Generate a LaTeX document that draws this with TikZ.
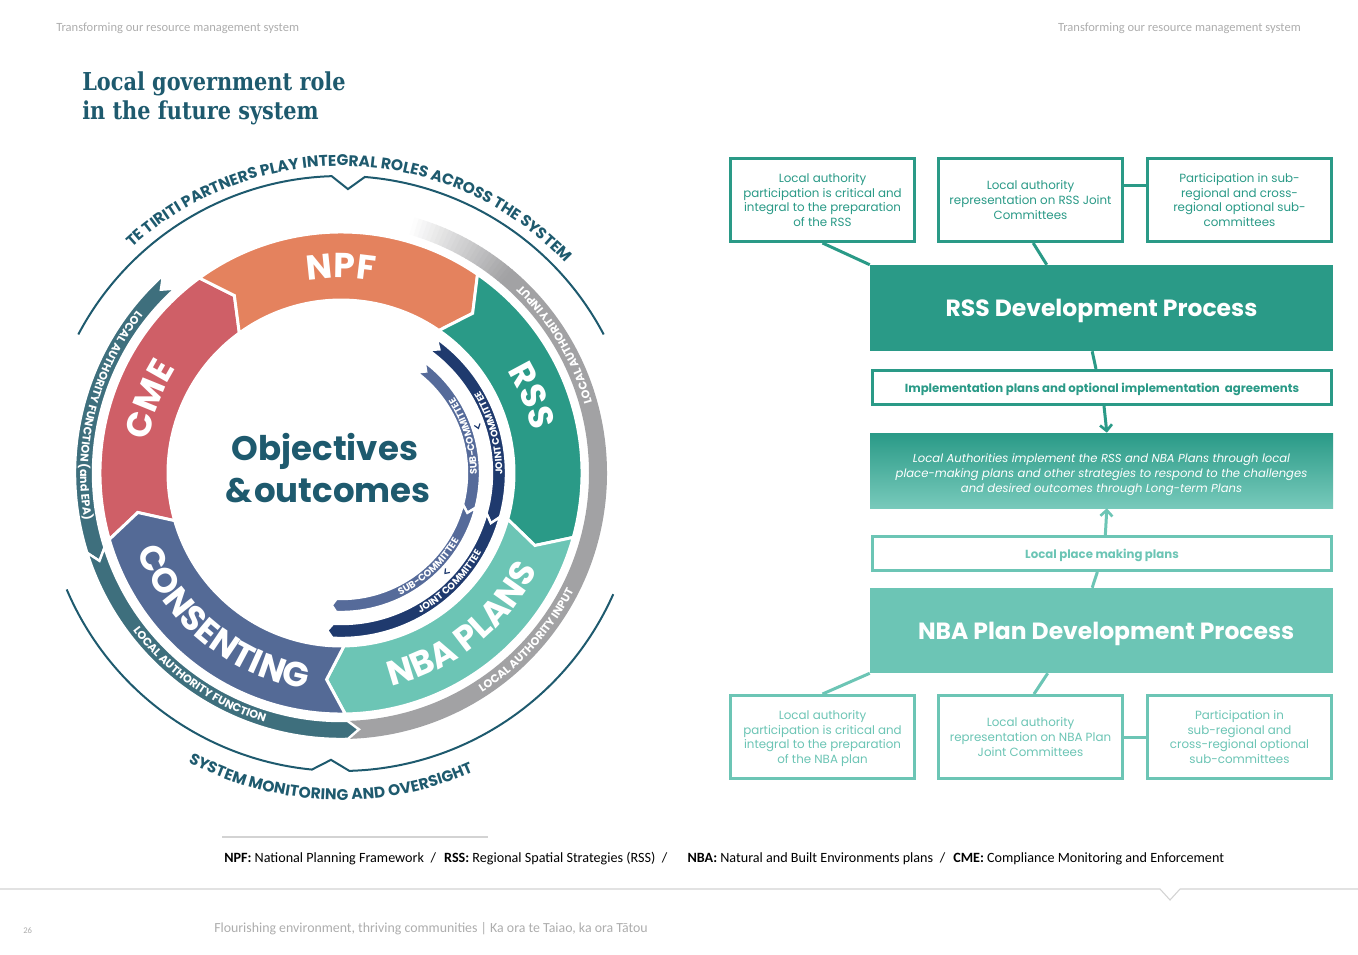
\documentclass[tikz,border=0pt]{standalone}
\usepackage{fontspec}
\setmainfont{Poppins}
\newfontfamily\pop{Poppins}
\newfontfamily\carl{Carlito}
\newfontfamily\titlef[FakeStretch=0.845]{DejaVu Serif}
\usetikzlibrary{decorations.text,arrows.meta,calc}
\definecolor{dteal}{HTML}{1E5A6E}
\definecolor{cmec}{HTML}{CF5F67}
\definecolor{npfc}{HTML}{E4825E}
\definecolor{rssc}{HTML}{2A9A87}
\definecolor{nbac}{HTML}{6CC5B5}
\definecolor{conc}{HTML}{546A96}
\definecolor{tband}{HTML}{3E6F7D}
\definecolor{gband}{HTML}{A2A2A4}
\definecolor{navyc}{HTML}{1F3A6E}
\definecolor{slatec}{HTML}{566B9A}
\definecolor{hdrgray}{HTML}{ADADAD}
\definecolor{linegray}{HTML}{D3D3D3}
% ring segment: colour, start angle, end angle (clockwise)
\newcommand\ringseg[3]{\filldraw[fill=#1,draw=white,line width=2.2pt] (#2:241) arc[start angle=#2,end angle=#3,radius=241] -- ({#3-5}:207) -- (#3:173) arc[start angle=#3,end angle=#2,radius=173] -- ({#2-5}:207) -- cycle;}
% clockwise band: colour, rin, rout, start, end, dstart, dend
\newcommand\bandcw[7]{\filldraw[fill=#1,draw=white,line width=1.8pt] (#4:#3) arc[start angle=#4,end angle=#5,radius=#3] -- ({#5-(#7)}:{(#2+#3)/2}) -- (#5:#2) arc[start angle=#5,end angle=#4,radius=#2] -- ({#4-(#6)}:{(#2+#3)/2}) -- cycle;}
% counter-clockwise band
\newcommand\bandccw[7]{\filldraw[fill=#1,draw=white,line width=1.8pt] (#4:#3) arc[start angle=#4,end angle=#5,radius=#3] -- ({#5+(#7)}:{(#2+#3)/2}) -- (#5:#2) arc[start angle=#5,end angle=#4,radius=#2] -- ({#4+(#6)}:{(#2+#3)/2}) -- cycle;}
% text on arc: radius, start, end, font, colour, text
\newcommand\arctext[6]{\path[decorate,decoration={text along path,text align=center,text color=#5,text={|#4|#6}}] (#2:#1) arc[start angle=#2,end angle=#3,radius=#1];}
\newcommand\ringf{\pop\bfseries\fontsize{26}{26}\selectfont}
\newcommand\rimf{\pop\bfseries\fontsize{11.6}{13}\selectfont}
\newcommand\bandf{\pop\bfseries\fontsize{8.4}{9}\selectfont}
\newcommand\innf{\pop\bfseries\fontsize{7.2}{8}\selectfont}
\tikzset{
  hdr/.style={inner sep=0pt,text=hdrgray,font=\carl\fontsize{9.4}{11}\selectfont},
  obox/.style={draw=rssc,line width=2.25pt,fill=white,inner sep=0pt,minimum width=138pt,minimum height=62.25pt,align=center,text=rssc,text depth=0pt,font=\pop\fontsize{8.9}{10.9}\selectfont},
  lbox/.style={obox,draw=nbac,text=nbac},
  wbox/.style={obox,minimum width=344.25pt,minimum height=25.5pt,font=\pop\bfseries\fontsize{8.8}{10}\selectfont},
  lwbox/.style={wbox,draw=nbac,text=nbac},
  bigbox/.style={draw=none,inner sep=0pt,minimum width=347.25pt,minimum height=64.5pt,text=white,text depth=0pt,font=\pop\bfseries\fontsize{17.6}{20}\selectfont},
  conn/.style={draw=rssc,line width=2.25pt},
  lconn/.style={draw=nbac,line width=2.25pt},
  tip/.style={-{Straight Barb[length=4.5pt,width=9pt,line width=2pt]}}
}
\begin{document}
\begin{tikzpicture}[x=0.75pt,y=0.75pt]
\useasboundingbox (0,0) rectangle (1358,-955);
% header
\node[hdr,anchor=base west] (hdrL) at (56,-32) {Transforming our resource management system};
\node[hdr,anchor=base east] (hdrR) at (1301,-32) {Transforming our resource management system};
% title
\node[anchor=base west,inner sep=0pt,text=dteal,font=\titlef\bfseries\fontsize{18.5}{21}\selectfont] (title1) at (82,-91) {Local government role};
\node[anchor=base west,inner sep=0pt,text=dteal,font=\titlef\bfseries\fontsize{18.5}{21}\selectfont] (title2) at (82,-120) {in the future system};

\begin{scope}[shift={(341,-473)}]
% main ring
\ringseg{cmec}{196}{126}
\ringseg{npfc}{126}{55.5}
\ringseg{rssc}{55.5}{-15.5}
\ringseg{nbac}{-15.5}{-89}
\ringseg{conc}{-89}{-164}
% grey band with fading start
\foreach \i in {0,...,23}{
  \pgfmathsetmacro\aa{74-\i}
  \pgfmathsetmacro\bb{74-\i-1.15}
  \pgfmathsetmacro\pp{(\i+0.5)/24*100}
  \fill[gband!\pp!white] (\aa:266) arc[start angle=\aa,end angle=\bb,radius=266] -- (\bb:248) arc[start angle=\bb,end angle=\aa,radius=248] -- cycle;
}
\fill[gband] (50:266) arc[start angle=50,end angle=-88.5,radius=266] -- (-86:257) -- (-88.5:248) arc[start angle=-88.5,end angle=50,radius=248] -- cycle;
% teal band
\bandccw{tband}{248}{266}{132}{197.5}{2.5}{2.5}
\bandccw{tband}{248}{266}{197.5}{271.5}{2.5}{2.5}
% committee bands
\bandcw{slatec}{126}{139}{53}{-14.5}{3}{3}
\bandcw{slatec}{126}{139}{-14.5}{-92}{3}{2}
\bandcw{navyc}{151}{165}{54.5}{-15.5}{3}{3}
\bandcw{navyc}{151}{165}{-15.5}{-93}{3}{2}
\draw[navyc,line width=0.9pt] (19.6:141.5) -- (18:144.5) -- (19.6:147.5);
\draw[navyc,line width=0.9pt] (-42.4:141.5) -- (-44:144.5) -- (-42.4:147.5);
% thin outer arcs
\draw[dteal,line width=1.5pt] (152.2:297) arc[start angle=152.2,end angle=91.8,radius=297] -- (88.6:284) -- (85.4:297) arc[start angle=85.4,end angle=27.8,radius=297];
\draw[dteal,line width=1.5pt] (203:298) arc[start angle=203,end angle=264.4,radius=298] -- (268:287) -- (271.6:298) arc[start angle=271.6,end angle=336,radius=298];
% rim texts
\arctext{307}{142}{34}{\rimf}{dteal}{TE TIRITI PARTNERS PLAY INTEGRAL ROLES ACROSS THE SYSTEM}
\arctext{327}{226}{310}{\rimf}{dteal}{SYSTEM MONITORING AND OVERSIGHT}
% ring labels
\arctext{195}{130}{50}{\ringf}{white}{NPF}
\arctext{195}{60}{-16}{\ringf}{white}{RSS}
\arctext{195}{195}{123}{\ringf}{white}{CME}
\arctext{219}{-90}{-13}{\ringf}{white}{NBA PLANS}
\arctext{219}{195}{267}{\ringf}{white}{CONSENTING}
% band texts
\arctext{260.8}{132}{200}{\bandf}{white}{LOCAL AUTHORITY FUNCTION (and EPA)}
\arctext{260.8}{200}{270}{\bandf}{white}{LOCAL AUTHORITY FUNCTION}
\arctext{260.8}{0}{62}{\bandf}{white}{LOCAL AUTHORITY INPUT}
\arctext{260.8}{-75}{-9}{\bandf}{white}{LOCAL AUTHORITY INPUT}
\arctext{135.8}{-12}{45}{\innf}{white}{SUB-COMMITTEE}
\arctext{161.3}{-13}{43}{\innf}{white}{JOINT COMMITTEE}
\arctext{135.8}{-85}{-9}{\innf}{white}{SUB-COMMITTEE}
\arctext{161.3}{-85}{-5}{\innf}{white}{JOINT COMMITTEE}
% centre
\node[anchor=base,inner sep=0pt,text=dteal,font=\pop\bfseries\fontsize{25.5}{30}\selectfont] (obj1) at (-16,13) {Objectives};
\node[anchor=base,inner sep=0pt,text=dteal,font=\pop\bfseries\fontsize{25.5}{30}\selectfont] (obj2) at (-13,-29) {\&\kern1.5pt outcomes};
\end{scope}

% flowchart
\node[obox] (T1) at (822.5,-200) {Local authority\\participation is critical and\\integral to the preparation\\of the RSS};
\node[obox] (T2) at (1030.5,-200) {Local authority\\representation on RSS Joint\\Committees};
\node[obox] (T3) at (1239.5,-200) {Participation in sub-\\regional and cross-\\regional optional sub-\\committees};
\node[bigbox,fill=rssc] (RSS) at (1101.5,-308) {RSS Development Process};
\node[wbox] (Impl) at (1102,-387.5) {Implementation plans and optional implementation\ \ agreements};
\node[draw=none,inner sep=0pt,minimum width=347.25pt,minimum height=56.25pt,top color=rssc,bottom color=nbac!92!white] (Grad) at (1101.5,-470.5) {};
\node[inner sep=0pt,align=center,text=white,font=\pop\itshape\fontsize{8.7}{11.25}\selectfont] (GradT) at (1101.5,-474.5) {Local Authorities implement the RSS and NBA Plans through local\\place-making plans and other strategies to respond to the challenges\\and desired outcomes through Long-term Plans};
\node[lwbox] (Local) at (1102,-553.5) {Local place making plans};
\node[bigbox,fill=nbac,minimum height=63.75pt] (NBA) at (1101.5,-630.5) {\hspace{7pt}NBA Plan Development Process};
\node[lbox] (B1) at (822.5,-737) {Local authority\\participation is critical and\\integral to the preparation\\of the NBA plan};
\node[lbox] (B2) at (1030.5,-737) {Local authority\\representation on NBA Plan\\Joint Committees};
\node[lbox] (B3) at (1239.5,-737) {Participation in\\sub-regional and\\cross-regional optional\\sub-committees};
\draw[conn] (T1.south) -- (RSS.north west);
\draw[conn] ([xshift=2pt]T2.south) -- ($(RSS.north west)+(177,0)$);
\draw[conn] ([yshift=10.5pt]T2.east) -- ([yshift=10.5pt]T3.west);
\draw[conn] ([xshift=-7pt]RSS.south) -- ([xshift=-4.5pt]Impl.north);
\draw[conn,tip] ([xshift=1.5pt]Impl.south) -- ([xshift=4pt]Grad.north);
\draw[lconn,tip] ([xshift=2.5pt]Local.north) -- ([xshift=4pt]Grad.south);
\draw[lconn] ([xshift=-3.5pt]Local.south) -- ([xshift=-7pt]NBA.north);
\draw[lconn] (NBA.south west) -- (B1.north);
\draw[lconn] ($(NBA.south west)+(178,0)$) -- ([xshift=2.6pt]B2.north);
\draw[lconn] (B2.east) -- (B3.west);

% legend and footer
\draw[linegray,line width=0.8pt] (222,-837) -- (488,-837);
\node[anchor=base west,inner sep=0pt,font=\carl\fontsize{10.6}{12}\selectfont] (legend) at (224,-862) {\textbf{NPF:} National Planning Framework\hspace{5pt}/\hspace{6pt}\textbf{RSS:} Regional Spatial Strategies (RSS)\hspace{5pt}/\hspace{15pt}\textbf{NBA:} Natural and Built Environments plans\hspace{5pt}/\hspace{6pt}\textbf{CME:} Compliance Monitoring and Enforcement};
\draw[linegray,line width=0.8pt] (0,-889) -- (1160,-889) -- (1170,-900) -- (1180,-889) -- (1358,-889);
\node[hdr,anchor=base west,font=\carl\fontsize{10.4}{12}\selectfont] (foot) at (214,-932) {Flourishing environment, thriving communities | Ka ora te Taiao, ka ora Tātou};
\node[hdr,anchor=base west,font=\carl\fontsize{6.5}{8}\selectfont] (pageno) at (23,-933) {26};
\end{tikzpicture}
\end{document}
